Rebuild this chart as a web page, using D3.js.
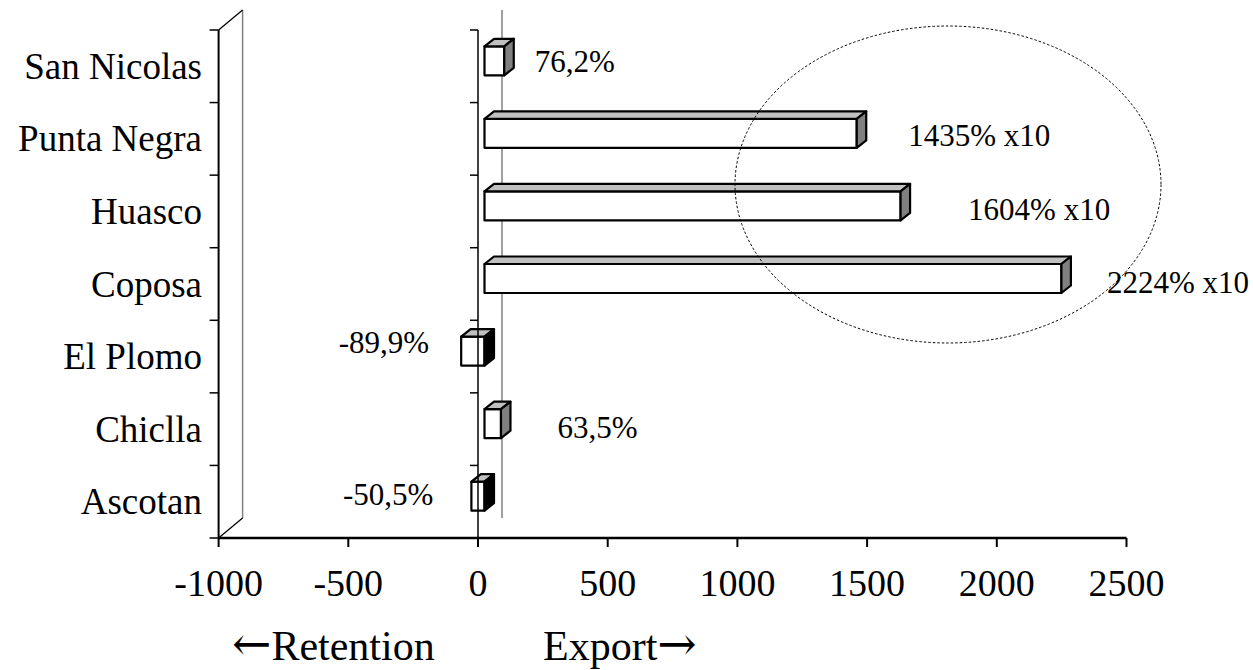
<!DOCTYPE html>
<html>
<head>
<meta charset="utf-8">
<script src="https://cdn.jsdelivr.net/npm/d3@7"></script>
<style>
  html, body { margin: 0; padding: 0; background: #fff; }
  svg { display: block; font-family: "Liberation Serif", "Times New Roman", serif; }
</style>
</head>
<body>
<svg id="chart" width="1253" height="670"></svg>
<script>
// ---- data ----
const categories = ["San Nicolas", "Punta Negra", "Huasco", "Coposa", "El Plomo", "Chiclla", "Ascotan"];
const values = [76.2, 1435, 1604, 2224, -89.9, 63.5, -50.5];
const valueLabels = ["76,2%", "1435% x10", "1604% x10", "2224% x10", "-89,9%", "63,5%", "-50,5%"];
const xTicks = [-1000, -500, 0, 500, 1000, 1500, 2000, 2500];
const axisTitleWords = ["Retention", "Export"];
const arrowLeft = "\u2190", arrowRight = "\u2192";

// ---- layout (pixels, not data) ----
const labelGap = [21, 42, 58, 36, 32, 47, 38];
const labelDy = [11, 12.5, 14, 14.5, 2, 14, 9];
const frontLeft = 218.6, frontRight = 1126.5, frontTop = 30, frontBottom = 538;
const depthX = 24, depthY = -20;         // back plane offset
const barOffX = 6.5, barOffY = -5.5;     // bar front face offset from front plane
const barDX = 9.5, barDY = -7.5;         // bar depth
const barH = 29;

const svg = d3.select("#chart");
const x = d3.scaleLinear().domain([-1000, 2500]).range([frontLeft, frontRight]);
const y = d3.scaleBand().domain(categories).range([frontTop, frontBottom]);

// back plane zero line
svg.append("line")
  .attr("x1", x(0) + depthX).attr("x2", x(0) + depthX)
  .attr("y1", frontTop + depthY).attr("y2", frontBottom + depthY)
  .attr("stroke", "#808080").attr("stroke-width", 1.5);

// left wall
const wall = svg.append("g");
wall.append("line").attr("x1", frontLeft + depthX).attr("x2", frontLeft + depthX)
  .attr("y1", frontTop + depthY).attr("y2", frontBottom + depthY)
  .attr("stroke", "#808080").attr("stroke-width", 1.5);
wall.append("line").attr("x1", frontLeft).attr("y1", frontTop)
  .attr("x2", frontLeft + depthX).attr("y2", frontTop + depthY)
  .attr("stroke", "#000").attr("stroke-width", 1.3);
wall.append("line").attr("x1", frontLeft).attr("y1", frontBottom)
  .attr("x2", frontLeft + depthX).attr("y2", frontBottom + depthY)
  .attr("stroke", "#000").attr("stroke-width", 1.3);

// left category axis line with ticks
const catBounds = categories.map(c => y(c)).concat([frontBottom]);
wall.append("line").attr("x1", frontLeft).attr("x2", frontLeft)
  .attr("y1", frontTop).attr("y2", frontBottom)
  .attr("stroke", "#000").attr("stroke-width", 2);
wall.selectAll("line.lt").data(catBounds).join("line").attr("class", "lt")
  .attr("x1", frontLeft - 9).attr("x2", frontLeft)
  .attr("y1", d => d).attr("y2", d => d)
  .attr("stroke", "#000").attr("stroke-width", 1.5);

// x axis
const xAxis = svg.append("g");
xAxis.append("line").attr("x1", frontLeft).attr("x2", frontRight)
  .attr("y1", frontBottom).attr("y2", frontBottom)
  .attr("stroke", "#000").attr("stroke-width", 2.5);
xAxis.selectAll("line.xt").data(xTicks).join("line").attr("class", "xt")
  .attr("x1", d => x(d)).attr("x2", d => x(d))
  .attr("y1", frontBottom).attr("y2", frontBottom + 9)
  .attr("stroke", "#000").attr("stroke-width", 2);
xAxis.selectAll("text").data(xTicks).join("text")
  .attr("x", d => x(d)).attr("y", frontBottom + 58)
  .attr("text-anchor", "middle")
  .attr("font-size", 38).attr("fill", "#000")
  .text(d => d);

// bars
const bars = svg.append("g");
categories.forEach((c, i) => {
  const v = values[i];
  const x1 = x(Math.min(0, v)) + barOffX;
  const x2 = x(Math.max(0, v)) + barOffX;
  const yT = y(c) + y.bandwidth() / 2 - barH / 2 + barOffY;
  const yB = yT + barH;
  const g = bars.append("g");
  g.append("rect").attr("x", x1).attr("y", yT).attr("width", x2 - x1).attr("height", barH)
    .attr("fill", "#fff").attr("stroke", "#000").attr("stroke-width", 2.2).attr("stroke-linejoin", "round");
  g.append("polygon")
    .attr("points", [[x1, yT], [x2, yT], [x2 + barDX, yT + barDY], [x1 + barDX, yT + barDY]].map(p => p.join(",")).join(" "))
    .attr("fill", "#c0c0c0").attr("stroke", "#000").attr("stroke-width", 2.2).attr("stroke-linejoin", "round");
  g.append("polygon")
    .attr("points", [[x2, yT], [x2 + barDX, yT + barDY], [x2 + barDX, yB + barDY], [x2, yB]].map(p => p.join(",")).join(" "))
    .attr("fill", v >= 0 ? "#808080" : "#000").attr("stroke", "#000").attr("stroke-width", 2.2).attr("stroke-linejoin", "round");
});

// front category axis at zero with ticks
const fAxis = svg.append("g");
fAxis.append("line").attr("x1", x(0)).attr("x2", x(0))
  .attr("y1", frontTop).attr("y2", frontBottom)
  .attr("stroke", "#000").attr("stroke-width", 1.5);
fAxis.selectAll("line.ft").data(catBounds.slice(0, -1)).join("line").attr("class", "ft")
  .attr("x1", x(0) - 8).attr("x2", x(0))
  .attr("y1", d => d).attr("y2", d => d)
  .attr("stroke", "#000").attr("stroke-width", 1.5);

// category labels
svg.append("g").selectAll("text").data(categories).join("text")
  .attr("x", 202).attr("y", d => y(d) + y.bandwidth() / 2 + 12.5)
  .attr("text-anchor", "end").attr("font-size", 37).attr("fill", "#000")
  .text(d => d);

// value labels
svg.append("g").selectAll("text").data(categories).join("text")
  .attr("x", (d, i) => values[i] >= 0
      ? x(values[i]) + barOffX + barDX + labelGap[i]
      : x(values[i]) + barOffX - labelGap[i])
  .attr("y", (d, i) => y(d) + y.bandwidth() / 2 + barOffY + labelDy[i])
  .attr("text-anchor", (d, i) => values[i] >= 0 ? "start" : "end")
  .attr("font-size", 31).attr("fill", "#000")
  .text((d, i) => valueLabels[i]);

// ellipse highlight
svg.append("ellipse")
  .attr("cx", 948).attr("cy", 184.5).attr("rx", 213).attr("ry", 158.5)
  .attr("fill", "none").attr("stroke", "#000").attr("stroke-width", 1)
  .attr("stroke-dasharray", "2.5,2");

// axis titles
const t1 = svg.append("text").attr("x", 232).attr("y", 660).attr("font-size", 42).attr("fill", "#000");
t1.append("tspan").attr("font-family", "DejaVu Serif").attr("font-size", 47).text(arrowLeft);
t1.append("tspan").attr("font-size", 42).text(axisTitleWords[0]);
const t2 = svg.append("text").attr("x", 543).attr("y", 660).attr("font-size", 42).attr("fill", "#000");
t2.append("tspan").text(axisTitleWords[1]);
t2.append("tspan").attr("font-family", "DejaVu Serif").attr("font-size", 47).text(arrowRight);
</script>
</body>
</html>
